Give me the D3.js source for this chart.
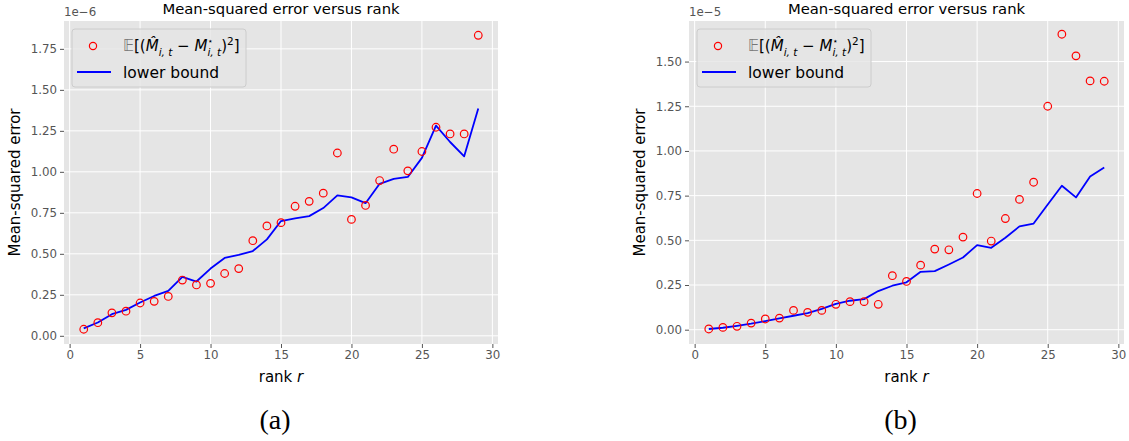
<!DOCTYPE html>
<html>
<head>
<meta charset="utf-8">
<script src="https://cdn.jsdelivr.net/npm/d3@7"></script>
<style>
  body { margin: 0; background: #fff; }
  svg { display: block; font-family: "DejaVu Sans", sans-serif; }
  .tick text { fill: #555; font-size: 11.8px; }
  .tick line { stroke: #555; }
</style>
</head>
<body>
<svg id="fig" width="1129" height="441"></svg>
<script>
const ranks = d3.range(1, 30);

// panel (a), values in units of 1e-6
const mseA = [0.04, 0.08, 0.14, 0.15, 0.20, 0.21, 0.24, 0.34, 0.31, 0.32,
  0.38, 0.41, 0.58, 0.67, 0.69, 0.79, 0.82, 0.87, 1.115, 0.71,
  0.795, 0.947, 1.138, 1.006, 1.124, 1.272, 1.231, 1.231, 1.833];
const boundA = [0.045, 0.081, 0.132, 0.158, 0.203, 0.243, 0.274, 0.359, 0.331, 0.41,
  0.475, 0.493, 0.517, 0.588, 0.70, 0.716, 0.73, 0.779, 0.856, 0.844,
  0.809, 0.927, 0.957, 0.969, 1.085, 1.282, 1.182, 1.095, 1.387];

// panel (b), values in units of 1e-5
const mseB = [0.004, 0.013, 0.019, 0.037, 0.060, 0.065, 0.108, 0.097, 0.108, 0.142,
  0.157, 0.157, 0.142, 0.302, 0.270, 0.361, 0.451, 0.447, 0.518, 0.762,
  0.496, 0.622, 0.729, 0.825, 1.250, 1.653, 1.532, 1.392, 1.390];
const boundB = [0.004, 0.011, 0.022, 0.034, 0.048, 0.063, 0.078, 0.093, 0.116, 0.145,
  0.162, 0.171, 0.216, 0.246, 0.265, 0.324, 0.328, 0.365, 0.404, 0.473,
  0.458, 0.514, 0.578, 0.594, 0.70, 0.805, 0.74, 0.857, 0.907];

const xTicks = [0, 5, 10, 15, 20, 25, 30];
const yTicksA = [0, 0.25, 0.5, 0.75, 1.0, 1.25, 1.5, 1.75];
const yTicksB = [0, 0.25, 0.5, 0.75, 1.0, 1.25, 1.5];

const svg = d3.select("#fig");

function drawPanel(opt) {
  const w = opt.right - opt.left;
  const h = opt.bottom - opt.top;
  const g = svg.append("g").attr("transform", `translate(${opt.left},${opt.top})`);

  const x = d3.scaleLinear().domain([-0.4, 30.4]).range([0, w]);
  const y = d3.scaleLinear().domain(opt.yDomain).range([h, 0]);

  g.append("rect").attr("width", w).attr("height", h).attr("fill", "#e5e5e5");

  // grid
  g.append("g")
    .selectAll("line").data(xTicks).join("line")
    .attr("x1", d => x(d)).attr("x2", d => x(d))
    .attr("y1", 0).attr("y2", h)
    .attr("stroke", "#fff").attr("stroke-width", 1);
  g.append("g")
    .selectAll("line").data(opt.yTicks).join("line")
    .attr("y1", d => y(d)).attr("y2", d => y(d))
    .attr("x1", 0).attr("x2", w)
    .attr("stroke", "#fff").attr("stroke-width", 1);

  // axes
  const xAxis = g.append("g")
    .attr("transform", `translate(0,${h})`)
    .call(d3.axisBottom(x).tickValues(xTicks).tickFormat(d3.format("d")).tickSize(4).tickPadding(3));
  const yAxis = g.append("g")
    .call(d3.axisLeft(y).tickValues(opt.yTicks).tickFormat(d3.format(".2f")).tickSize(4).tickPadding(3));
  [xAxis, yAxis].forEach(a => {
    a.select(".domain").remove();
    a.selectAll(".tick text").attr("font-family", "DejaVu Sans").attr("fill", "#555");
  });

  // lower bound line
  const line = d3.line().x((d, i) => x(ranks[i])).y(d => y(d));
  g.append("path")
    .datum(opt.bound)
    .attr("d", line)
    .attr("fill", "none")
    .attr("stroke", "#0000ff")
    .attr("stroke-width", 1.8)
    .attr("stroke-linejoin", "round");

  // MSE points
  g.append("g")
    .selectAll("circle").data(opt.mse).join("circle")
    .attr("cx", (d, i) => x(ranks[i]))
    .attr("cy", d => y(d))
    .attr("r", 3.8)
    .attr("fill", "none")
    .attr("stroke", "#ff0000")
    .attr("stroke-width", 1.2);

  // title, offset text, labels
  g.append("text")
    .attr("x", w / 2).attr("y", -7)
    .attr("text-anchor", "middle")
    .attr("font-size", 14.8)
    .text("Mean-squared error versus rank");
  g.append("text")
    .attr("x", 0).attr("y", -5)
    .attr("font-size", 11.8)
    .attr("fill", "#555")
    .text(opt.offset);

  const xl = g.append("text")
    .attr("x", w / 2).attr("y", h + 38)
    .attr("text-anchor", "middle")
    .attr("font-size", 15);
  xl.append("tspan").text("rank ");
  xl.append("tspan").attr("font-style", "italic").text("r");

  g.append("text")
    .attr("transform", `translate(${opt.yLabelX - opt.left},${h / 2}) rotate(-90)`)
    .attr("text-anchor", "middle")
    .attr("font-size", 15)
    .text("Mean-squared error");

  svg.append("text")
    .attr("x", opt.left + w / 2 - 6).attr("y", 429)
    .attr("text-anchor", "middle")
    .attr("font-family", "Liberation Serif, DejaVu Serif, serif")
    .attr("font-size", 28)
    .text(opt.tag);

  // legend
  const lg = g.append("g").attr("transform", `translate(${opt.legendX - opt.left},8)`);
  lg.append("rect")
    .attr("width", 174).attr("height", 58)
    .attr("rx", 3)
    .attr("fill", "#e5e5e5").attr("fill-opacity", 0.8)
    .attr("stroke", "#cccccc");
  lg.append("circle")
    .attr("cx", 21).attr("cy", 17).attr("r", 3.6)
    .attr("fill", "none").attr("stroke", "#ff0000").attr("stroke-width", 1.2);
  lg.append("line")
    .attr("x1", 5).attr("x2", 39).attr("y1", 43).attr("y2", 43)
    .attr("stroke", "#0000ff").attr("stroke-width", 1.8);

  const t = lg.append("text").attr("x", 51).attr("y", 22).attr("font-size", 15);
  t.append("tspan").attr("fill", "#777").text("𝔼");
  t.append("tspan").text("[(");
  t.append("tspan").attr("font-style", "italic").text("M\u0302");
  t.append("tspan").attr("font-style", "italic").attr("font-size", 10.5).attr("dy", 5).text("i, t");
  t.append("tspan").attr("dy", -5).text(" \u2212 ");
  t.append("tspan").attr("font-style", "italic").text("M");
  const sup = t.append("tspan").attr("font-size", 9).attr("dy", -7).text("\u22c6");
  const supLen = sup.node().getComputedTextLength();
  t.append("tspan").attr("font-style", "italic").attr("font-size", 10.5)
    .attr("dx", -supLen).attr("dy", 12).text("i, t");
  t.append("tspan").attr("dy", -5).text(")");
  t.append("tspan").attr("font-size", 10.5).attr("dy", -6).text("2");
  t.append("tspan").attr("dy", 6).text("]");

  lg.append("text").attr("x", 51).attr("y", 49).attr("font-size", 15.5).text("lower bound");
}

drawPanel({
  left: 64, right: 498, top: 21, bottom: 344,
  yDomain: [-0.05, 1.92], yTicks: yTicksA,
  mse: mseA, bound: boundA, offset: "1e\u22126", tag: "(a)",
  yLabelX: 20, legendX: 72
});

drawPanel({
  left: 689, right: 1124, top: 21, bottom: 344,
  yDomain: [-0.08, 1.727], yTicks: yTicksB,
  mse: mseB, bound: boundB, offset: "1e\u22125", tag: "(b)",
  yLabelX: 645, legendX: 697
});
</script>
</body>
</html>
